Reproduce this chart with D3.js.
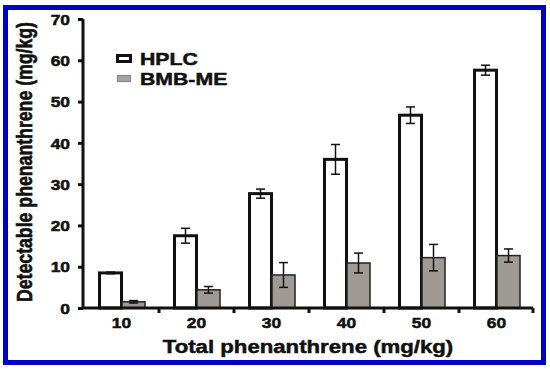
<!DOCTYPE html>
<html>
<head>
<meta charset="utf-8">
<script src="https://cdn.jsdelivr.net/npm/d3@7/dist/d3.min.js"></script>
<style>
  body { margin: 0; background: #fff; }
  text { font-family: "Liberation Sans", Arial, sans-serif; font-weight: bold; fill: #111; stroke: #111; stroke-width: 0.5px; }
</style>
</head>
<body>
<svg id="chart"></svg>
<script>
const categories = ["10", "20", "30", "40", "50", "60"];
const hplc = [8.5, 17.5, 27.7, 36.0, 46.7, 57.6];
const hplcErr = [0.2, 1.8, 1.1, 3.6, 2.0, 1.2];
const bmb = [1.5, 4.4, 8.0, 10.9, 12.2, 12.7];
const bmbErr = [0.3, 0.8, 3.0, 2.4, 3.2, 1.6];
const yTicks = [0, 10, 20, 30, 40, 50, 60, 70];

const width = 550, height = 370;
const stretch = 1.2; // the original text is a little wider than tall
const svg = d3.select("#chart").attr("width", width).attr("height", height);

// blue frame
svg.append("rect")
  .attr("x", 5.5).attr("y", 7.5)
  .attr("width", 538).attr("height", 355)
  .attr("fill", "none")
  .attr("stroke", "#0000cc")
  .attr("stroke-width", 5);

const plotLeft = 83, plotRight = 533, plotTop = 19, plotBottom = 308;

const x = d3.scaleBand().domain(categories).range([plotLeft + 1, plotRight + 1]).padding(0);
const y = d3.scaleLinear().domain([0, 70]).range([plotBottom, plotTop]);

const g = svg.append("g");

// bars
categories.forEach((c, i) => {
  const cx = x(c) + x.bandwidth() / 2;
  g.append("rect")
    .attr("x", cx - 22).attr("y", y(hplc[i]))
    .attr("width", 22).attr("height", y(0) - y(hplc[i]))
    .attr("fill", "#fff").attr("stroke", "#111").attr("stroke-width", 3);
  g.append("rect")
    .attr("x", cx + 0.5).attr("y", y(bmb[i]))
    .attr("width", 23).attr("height", y(0) - y(bmb[i]))
    .attr("fill", "#a09a94").attr("stroke", "#222").attr("stroke-width", 1.5);
});

// error bars
function errBar(cx, v, e) {
  const eg = g.append("g").attr("stroke", "#111").attr("stroke-width", 1.5);
  eg.append("line").attr("x1", cx).attr("x2", cx).attr("y1", y(v + e)).attr("y2", y(v - e));
  eg.append("line").attr("x1", cx - 4.5).attr("x2", cx + 4.5).attr("y1", y(v + e)).attr("y2", y(v + e));
  eg.append("line").attr("x1", cx - 4.5).attr("x2", cx + 4.5).attr("y1", y(v - e)).attr("y2", y(v - e));
}
categories.forEach((c, i) => {
  const cx = x(c) + x.bandwidth() / 2;
  errBar(cx - 11, hplc[i], hplcErr[i]);
  errBar(cx + 12, bmb[i], bmbErr[i]);
});

// y axis
const yAxis = d3.axisLeft(y).tickValues(yTicks).tickSize(5);
const yg = svg.append("g").attr("transform", `translate(${plotLeft},0)`).call(yAxis);
yg.select(".domain").attr("stroke", "#111").attr("stroke-width", 3).attr("d", `M0,${plotTop}V${plotBottom}`);
yg.selectAll(".tick line").attr("stroke", "#111").attr("stroke-width", 3);
yg.selectAll(".tick text")
  .style("font-size", "14.5px").attr("fill", "#111")
  .attr("x", -13 / stretch).attr("dy", "0.36em")
  .attr("transform", `scale(${stretch},1)`);

// x axis
const xAxis = d3.axisBottom(x).tickSize(0);
const xg = svg.append("g").attr("transform", `translate(0,${plotBottom})`).call(xAxis);
xg.select(".domain").attr("stroke", "#111").attr("stroke-width", 3).attr("d", `M${plotLeft},0H${plotRight}`);
xg.selectAll(".tick text")
  .style("font-size", "14.5px").attr("fill", "#111")
  .attr("y", 20).attr("dy", 0)
  .attr("transform", `scale(${stretch},1)`);
// boundary ticks between groups
const bounds = categories.slice(1).map(c => x(c)).concat([plotRight]);
xg.selectAll(".btick").data(bounds).enter().append("line")
  .attr("x1", d => d).attr("x2", d => d)
  .attr("y1", 0).attr("y2", 5)
  .attr("stroke", "#111").attr("stroke-width", 3);

// axis titles
svg.append("text")
  .attr("transform", `translate(308,353) scale(${stretch},1)`)
  .attr("text-anchor", "middle")
  .style("font-size", "18.5px")
  .text("Total phenanthrene (mg/kg)");

svg.append("text")
  .attr("transform", "translate(32,162) scale(1.25,1) rotate(-90)")
  .attr("text-anchor", "middle")
  .style("font-size", "17.7px")
  .text("Detectable phenanthrene (mg/kg)");

// legend
const legend = [
  { name: "HPLC", fill: "#fff", stroke: "#111", sw: 3 },
  { name: "BMB-ME", fill: "#aaa5a0", stroke: "#888", sw: 1.2 }
];
const lg = svg.append("g");
legend.forEach((d, i) => {
  const yy = 55.5 + i * 20;
  lg.append("rect").attr("x", 117.5).attr("y", yy).attr("width", 13).attr("height", 6)
    .attr("fill", d.fill).attr("stroke", d.stroke).attr("stroke-width", d.sw);
  lg.append("text").attr("transform", `translate(140,${65 + i * 20}) scale(1.25,1)`)
    .style("font-size", "17px").text(d.name);
});
</script>
</body>
</html>
